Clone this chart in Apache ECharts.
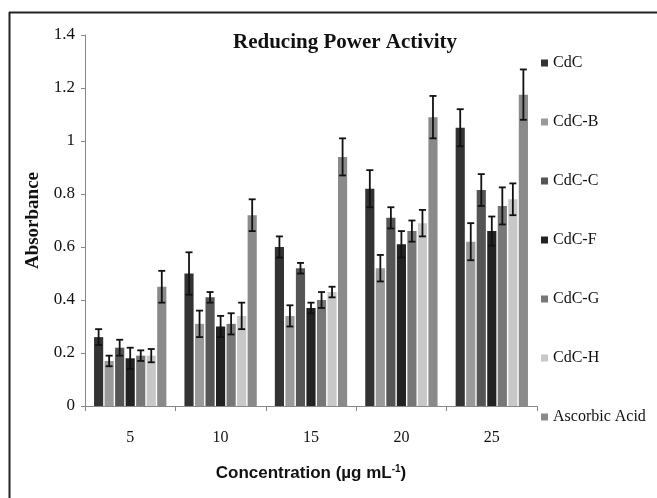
<!DOCTYPE html>
<html>
<head>
<meta charset="utf-8">
<script src="https://cdn.jsdelivr.net/npm/echarts@6/dist/echarts.min.js"></script>
<style>
  html, body { margin: 0; padding: 0; background: #fff; }
  #chart { width: 657px; height: 498px; }
</style>
</head>
<body>
<div id="chart"></div>
<script>
var concentrations = ['5', '10', '15', '20', '25'];
var seriesNames = ['CdC', 'CdC-B', 'CdC-C', 'CdC-F', 'CdC-G', 'CdC-H', 'Ascorbic Acid'];
var seriesColors = ['#333333', '#9a9a9a', '#555555', '#222222', '#777777', '#c8c8c8', '#8a8a8a'];

// mean absorbance per series, one value per concentration
var cdc = [0.26, 0.50, 0.60, 0.82, 1.05];
var cdcB = [0.17, 0.31, 0.34, 0.52, 0.62];
var cdcC = [0.22, 0.41, 0.52, 0.71, 0.815];
var cdcF = [0.18, 0.30, 0.37, 0.61, 0.66];
var cdcG = [0.19, 0.31, 0.40, 0.66, 0.755];
var cdcH = [0.19, 0.34, 0.43, 0.69, 0.78];
var ascorbic = [0.45, 0.72, 0.94, 1.09, 1.175];

// error bar half-heights
var cdcErr = [0.03, 0.08, 0.04, 0.07, 0.07];
var cdcBErr = [0.02, 0.05, 0.04, 0.05, 0.07];
var cdcCErr = [0.03, 0.02, 0.02, 0.04, 0.06];
var cdcFErr = [0.04, 0.04, 0.02, 0.05, 0.055];
var cdcGErr = [0.02, 0.04, 0.03, 0.04, 0.07];
var cdcHErr = [0.025, 0.05, 0.02, 0.05, 0.06];
var ascorbicErr = [0.06, 0.06, 0.07, 0.08, 0.095];

var yTicks = [0, 0.2, 0.4, 0.6, 0.8, 1, 1.2, 1.4];

var means = [cdc, cdcB, cdcC, cdcF, cdcG, cdcH, ascorbic];
var errors = [cdcErr, cdcBErr, cdcCErr, cdcFErr, cdcGErr, cdcHErr, ascorbicErr];

var barCategoryGap = 0.2;
var barGap = 0.15;
var serif = '"Liberation Serif", "Times New Roman", serif';

var chart = echarts.init(document.getElementById('chart'));

var series = [];
seriesNames.forEach(function (name, i) {
  series.push({
    name: name,
    type: 'bar',
    data: means[i],
    itemStyle: { color: seriesColors[i] },
    barCategoryGap: (barCategoryGap * 100) + '%',
    barGap: (barGap * 100) + '%'
  });
});

seriesNames.forEach(function (name, i) {
  var errData = means[i].map(function (v, j) {
    return [j, v - errors[i][j], v + errors[i][j]];
  });
  series.push({
    type: 'custom',
    name: name,
    silent: true,
    z: 10,
    data: errData,
    renderItem: function (params, api) {
      var band = api.size([1, 0])[0];
      var avail = band * (1 - barCategoryGap);
      var n = seriesNames.length;
      var w = avail / (n + (n - 1) * barGap);
      var offset = -avail / 2 + i * w * (1 + barGap) + w / 2;
      var lo = api.coord([api.value(0), api.value(1)]);
      var hi = api.coord([api.value(0), api.value(2)]);
      var x = lo[0] + offset;
      var cap = 3.5;
      var style = { stroke: '#111', lineWidth: 1.8 };
      return {
        type: 'group',
        children: [
          { type: 'line', shape: { x1: x, y1: lo[1], x2: x, y2: hi[1] }, style: style },
          { type: 'line', shape: { x1: x - cap, y1: lo[1], x2: x + cap, y2: lo[1] }, style: style },
          { type: 'line', shape: { x1: x - cap, y1: hi[1], x2: x + cap, y2: hi[1] }, style: style }
        ]
      };
    }
  });
});

var option = {
  animation: false,
  title: {
    text: 'Reducing Power Activity',
    left: 340,
    top: 27,
    textAlign: 'center',
    textStyle: { fontFamily: serif, fontWeight: 'bold', fontSize: 21, color: '#111' }
  },
  legend: {
    data: seriesNames,
    orient: 'vertical',
    left: 536,
    top: 50,
    itemGap: 43,
    itemWidth: 7,
    itemHeight: 7,
    icon: 'rect',
    textStyle: { fontFamily: serif, fontSize: 16, color: '#111' }
  },
  grid: { left: 85, top: 35, width: 452, height: 371 },
  xAxis: {
    type: 'category',
    data: concentrations,
    axisLine: { lineStyle: { color: '#888' } },
    axisTick: { show: true, length: 5, lineStyle: { color: '#888' } },
    axisLabel: { fontFamily: serif, fontSize: 16, color: '#111', margin: 24 },
    name: 'Concentration (µg mL{sup|-1})',
    nameLocation: 'middle',
    nameGap: 58,
    nameTextStyle: {
      fontFamily: '"Liberation Sans", Arial, sans-serif',
      fontWeight: 'bold',
      fontSize: 17,
      color: '#111',
      rich: {
        sup: { fontFamily: '"Liberation Sans", Arial, sans-serif', fontWeight: 'bold', fontSize: 10, color: '#111', verticalAlign: 'top', padding: [0, 0, 8, 0] }
      }
    }
  },
  yAxis: {
    type: 'value',
    min: yTicks[0],
    max: yTicks[yTicks.length - 1],
    interval: 0.2,
    splitLine: { show: false },
    axisLine: { show: true, lineStyle: { color: '#888' } },
    axisTick: { show: true, length: 4, lineStyle: { color: '#888' } },
    axisLabel: {
      fontFamily: serif, fontSize: 17, color: '#111', margin: 10,
      formatter: function (v) { return String(Math.round(v * 10) / 10); }
    },
    name: 'Absorbance',
    nameLocation: 'middle',
    nameGap: 42,
    nameTextStyle: { fontFamily: serif, fontWeight: 'bold', fontSize: 19, color: '#111' }
  },
  graphic: [
    { type: 'line', shape: { x1: 9.5, y1: 12, x2: 9.5, y2: 498 }, style: { stroke: '#222', lineWidth: 2 } },
    { type: 'line', shape: { x1: 9, y1: 12.5, x2: 657, y2: 12.5 }, style: { stroke: '#222', lineWidth: 2 } }
  ],
  series: series
};

chart.setOption(option);
window.addEventListener('resize', function () {
  chart.resize();
});
</script>
</body>
</html>
